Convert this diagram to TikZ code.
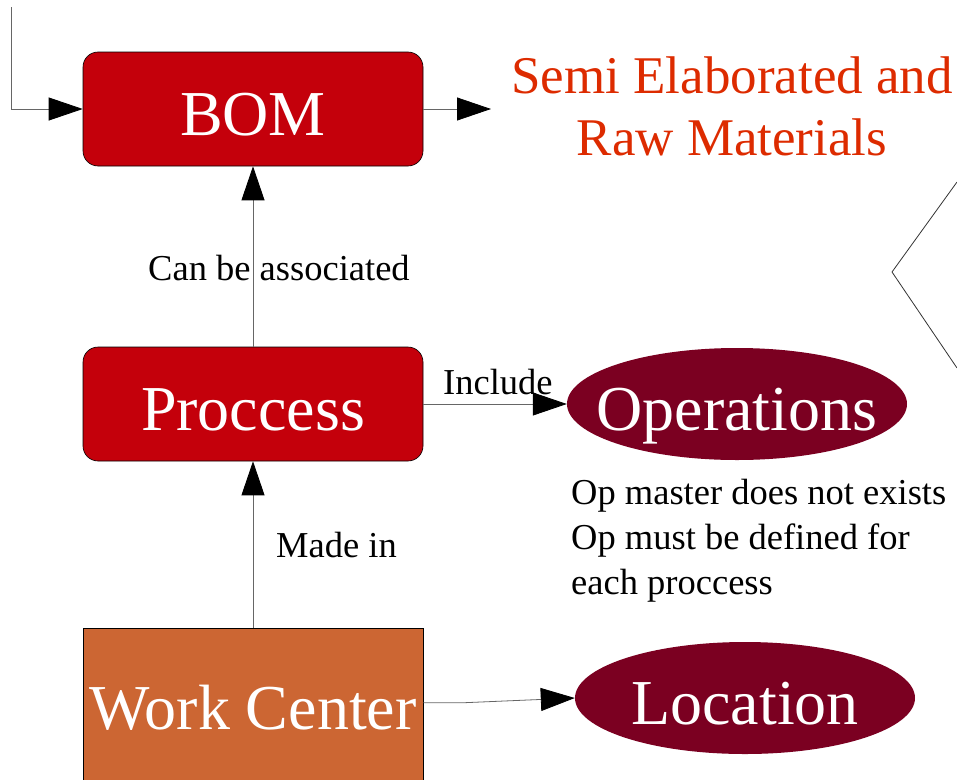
\documentclass[tikz,border=0pt]{standalone}
\usepackage{fontspec}
\setmainfont{Liberation Serif}
\usetikzlibrary{arrows.meta,shapes.geometric}
\definecolor{bomred}{HTML}{C4000B}
\definecolor{opsred}{HTML}{7B0021}
\definecolor{wcorange}{HTML}{CC6633}
\definecolor{semired}{HTML}{DD2B00}
\begin{document}
\begin{tikzpicture}[x=1pt,y=-1pt,
  bigfont/.style={font=\fontsize{64}{70}\selectfont, text=white, text height=52pt, text depth=0pt},
  roundbox/.style={draw=black, line width=0.6pt, fill=bomred, rounded corners=15pt, minimum width=340pt, minimum height=114pt, inner sep=0pt, bigfont},
  wcbox/.style={draw=black, line width=0.6pt, fill=wcorange, minimum width=340pt, minimum height=202pt, inner sep=0pt, font=\fontsize{64}{70}\selectfont, text=white, text height=26pt, text depth=26pt},
  oval/.style={ellipse, fill=opsred, minimum width=340pt, minimum height=112pt, inner sep=0pt},
  ovaltext/.style={bigfont, inner sep=0pt},
  link/.style={draw=black!60, line width=0.8pt, -{Triangle[length=34pt,width=23pt,color=black]}},
  lbl/.style={font=\fontsize{36.5}{45}\selectfont, inner sep=0pt, anchor=base west},
]
\useasboundingbox (0,0) rectangle (957,779);

\node[roundbox] (bom) at (253,109) {BOM};
\node[roundbox] (proc) at (253,404) {Proccess};
\node[wcbox] (wc) at (253,729) {Work Center};
\node[oval] (ops) at (737,404) {};
\node[ovaltext] (opsT) at (ops.center) {Operations};
\node[oval] (loc) at (745,698) {};
\node[ovaltext] (locT) at (loc.center) {Location};

\node[font=\fontsize{53}{62}\selectfont, text=semired, align=center, inner sep=0pt] (semi) at (732,106) {Semi Elaborated and\\Raw Materials};

\node[font=\fontsize{36.5}{45}\selectfont, align=left, inner sep=0pt, anchor=west] (note) at (571,541) {Op master does not exists\\Op must be defined for\\each proccess};

\coordinate (tl) at (11,7);
\coordinate (semiIn) at (491,109);
\draw[link] (tl) |- (bom.west);
\draw[link] (bom.east) -- (semiIn);
\draw[link] (proc.north) -- (bom.south);
\draw[link] (wc.north) -- (proc.south);
\draw[link] (proc.east) -- (ops.west);
\draw[link] (wc.north east) ++(0,75) -- ++(41,0) -- (loc.west);

\node[lbl] (l1) at (148,280) {Can be associated};
\node[lbl] (l2) at (443,394) {Include};
\node[lbl] (l3) at (276,557) {Made in};

\draw[black!80, line width=0.8pt] (957,182) -- (892,272) -- (957,368);
\end{tikzpicture}
\end{document}
